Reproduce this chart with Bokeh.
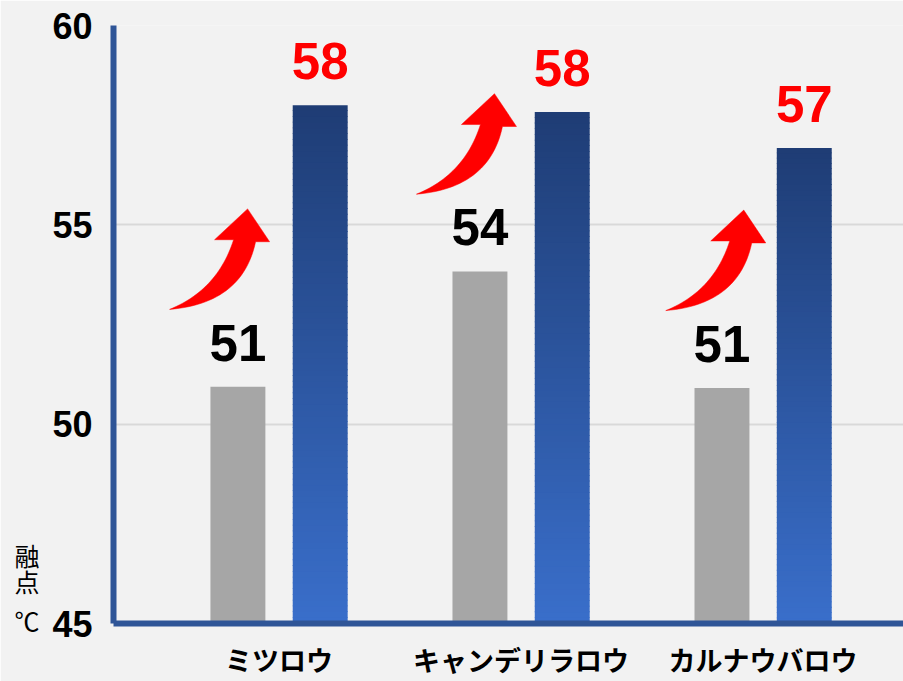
import numpy as np
from bokeh.plotting import figure
from bokeh.models import Range1d, FixedTicker, LinearAxis
from bokeh.embed import file_html
from bokeh.resources import INLINE
from bokeh.core.properties import value

# ---- data ----
categories = ["ミツロウ", "キャンデリラロウ", "カルナウバロウ"]
before = [50.94, 53.83, 50.91]
after = [58.0, 57.83, 56.93]
before_labels = ["51", "54", "51"]
after_labels = ["58", "58", "57"]
y_ticks = [45, 50, 55, 60]
title_chars = ["融", "点", "℃"]
title_pos = [46.72, 46.07, 45.1]    # where the stacked axis-title characters sit
arrow_dx = [-0.13, -0.11, -0.08]   # arrow tip position relative to category
arrow_rise = 4.46                   # arrow tip height above the "before" bar

# ---- geometry ----
Y0, Y1 = 45, 60
X0, X1 = -0.684, 2.58
W, H = 903, 681
ML, MT = 113, 25
FW, FH = W - ML, 601
px_x = FW / (X1 - X0)
px_y = FH / (Y1 - Y0)
off = 0.17
bw = 0.227

p = figure(width=W, height=H, output_backend="svg", toolbar_location=None,
           x_range=Range1d(X0, X1), y_range=Range1d(Y0, Y1),
           min_border_left=ML, min_border_right=0, min_border_top=MT,
           min_border_bottom=H - MT - FH)
p.background_fill_color = "#f2f2f2"
p.border_fill_color = "#f2f2f2"
p.outline_line_color = None

xs = np.arange(len(categories))

# gray bars
p.vbar(x=xs - off, top=before, bottom=Y0, width=bw, fill_color="#a6a6a6", line_color=None)

# gradient blue bars (sliced)
top_c = np.array([0x1f, 0x3d, 0x75])
bot_c = np.array([0x3a, 0x6f, 0xcb])
N = 90
gx, gb, gt, gc = [], [], [], []
for i, v in enumerate(after):
    edges = np.linspace(Y0, v, N + 1)
    for k in range(N):
        t = (k + 0.5) / N
        c = (bot_c + (top_c - bot_c) * t).astype(int)
        gx.append(xs[i] + off)
        gb.append(edges[k])
        gt.append(edges[k + 1] + (0 if k == N - 1 else 0.02))
        gc.append("#%02x%02x%02x" % tuple(c))
p.vbar(x=gx, bottom=gb, top=gt, width=bw, fill_color=gc, line_color=None)

# value labels
p.text(x=xs - off, y=before, text=before_labels, y_offset=-44, text_align="center",
       text_baseline="alphabetic", text_font=value("Liberation Sans"), text_font_style="bold",
       text_font_size="51px", text_color="black")
p.text(x=xs + off, y=after, text=after_labels, y_offset=-44, text_align="center",
       text_baseline="alphabetic", text_font=value("Liberation Sans"), text_font_style="bold",
       text_font_size="51px", text_color="#ff0000")

# curved arrows (shape in pixels relative to tip, y downward)
def qbez(p0, p1, p2, n=30):
    t = np.linspace(0, 1, n)[:, None]
    return (1 - t) ** 2 * np.array(p0) + 2 * (1 - t) * t * np.array(p1) + t ** 2 * np.array(p2)

shape = [np.array([[0, 0], [22, 33], [8, 33]])]
shape.append(qbez((8, 33), (-5, 95), (-78, 101))[1:])
shape.append(qbez((-78, 101), (-30, 81.5), (-14, 31))[1:])
shape.append(np.array([[-33, 31]]))
shape = np.vstack(shape)

axs, ays = [], []
for i in range(len(categories)):
    tx = xs[i] + arrow_dx[i]
    ty = before[i] + arrow_rise
    axs.append(list(tx + shape[:, 0] / px_x))
    ays.append(list(ty - shape[:, 1] / px_y))
p.patches(xs=axs, ys=ays, fill_color="#ff0000", line_color="#ff0000", line_width=0.5)

# axes
p.xaxis.ticker = FixedTicker(ticks=list(xs))
p.xaxis.major_label_overrides = {int(i): c for i, c in zip(xs, categories)}
p.xaxis.major_label_text_font = "Noto Sans CJK JP"
p.xaxis.major_label_text_font_style = "bold"
p.xaxis.major_label_text_font_size = "27px"
p.xaxis.major_label_text_color = "black"
p.xaxis.major_label_standoff = 16
p.yaxis.ticker = FixedTicker(ticks=y_ticks)
p.yaxis.major_label_text_font = "Liberation Sans"
p.yaxis.major_label_text_font_style = "bold"
p.yaxis.major_label_text_font_size = "36px"
p.yaxis.major_label_text_color = "black"
p.yaxis.major_label_standoff = 21
for ax in (p.xaxis, p.yaxis):
    ax.axis_line_color = "#2f5597"
    ax.axis_line_width = 6
    ax.major_tick_line_color = None
    ax.minor_tick_line_color = None
    ax.major_tick_out = 0
    ax.major_tick_in = 0

# stacked axis title as a second, line-less left axis
tax = LinearAxis(ticker=FixedTicker(ticks=title_pos),
                 major_label_overrides={float(v): c for v, c in zip(title_pos, title_chars)})
tax.axis_line_color = None
tax.major_tick_line_color = None
tax.minor_tick_line_color = None
tax.major_tick_out = 0
tax.major_tick_in = 0
tax.major_label_standoff = 10
tax.major_label_text_font = "Noto Sans CJK JP"
tax.major_label_text_font_size = "25px"
tax.major_label_text_color = "black"
p.add_layout(tax, "left")

p.xgrid.grid_line_color = None
p.ygrid.grid_line_color = "#d9d9d9"
p.ygrid.grid_line_width = 2

open("out.html", "w").write(file_html(p, INLINE))
